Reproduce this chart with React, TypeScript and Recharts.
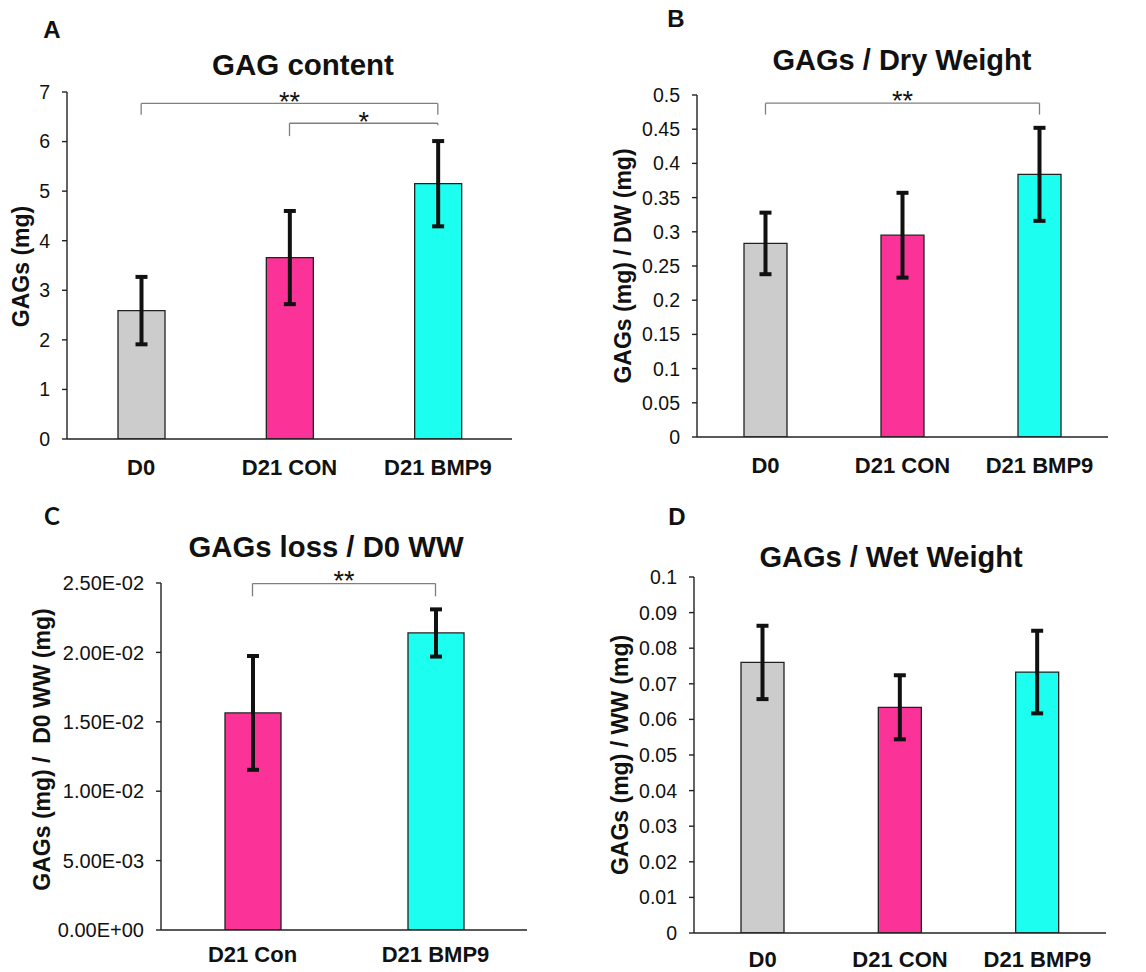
import { BarChart, Bar, XAxis, YAxis, Cell, ErrorBar, ReferenceLine } from 'recharts'

const FONT = '"Liberation Sans", Arial, sans-serif'
const INK = '#111'
const AXIS = '#222'

// categories and colours
const groups = ['D0', 'D21 CON', 'D21 BMP9']
const groupsLoss = ['D21 Con', 'D21 BMP9']
const groupColors = ['#cccccc', '#fb3399', '#1cfff0']
const lossColors = ['#fb3399', '#1cfff0']

// A: GAG content (mg)
const contentMean = [2.59, 3.66, 5.15]
const contentSd = [0.68, 0.94, 0.86]
const contentTicks = [0, 1, 2, 3, 4, 5, 6, 7]

// B: GAGs / dry weight
const dryMean = [0.283, 0.295, 0.384]
const drySd = [0.045, 0.062, 0.068]
const dryTicks = [0, 0.05, 0.1, 0.15, 0.2, 0.25, 0.3, 0.35, 0.4, 0.45, 0.5]

// C: GAGs loss / D0 wet weight
const lossMean = [0.01564, 0.0214]
const lossSd = [0.0041, 0.0017]
const lossTicks = [0, 0.005, 0.01, 0.015, 0.02, 0.025]

// D: GAGs / wet weight
const wetMean = [0.076, 0.0634, 0.0733]
const wetSd = [0.0103, 0.009, 0.0116]
const wetTicks = [0, 0.01, 0.02, 0.03, 0.04, 0.05, 0.06, 0.07, 0.08, 0.09, 0.1]

const plainFmt = (v: number) => `${+v.toFixed(3)}`
const sciFmt = (v: number) =>
  v.toExponential(2).replace(/e([+-])(\d+)/, (_m, s, d) => `E${s}${d.padStart(2, '0')}`)

type Bracket = {
  from: string
  to: string
  y: number
  leftEnd: number
  rightEnd: number
  stars: string
  offset: number
}

type PanelProps = {
  left: number
  top: number
  width: number
  height: number
  margin: { top: number; right: number; bottom: number; left: number }
  yWidth: number
  xHeight: number
  xTickMargin: number
  categories: string[]
  means: number[]
  sds: number[]
  colors: string[]
  ticks: number[]
  fmt: (v: number) => string
  tickFont: number
  barSize: number
  yLabel: string
  yLabelX: number
  yLabelDy: number
  brackets: Bracket[]
}

function Panel(p: PanelProps) {
  const data = p.categories.map((name, i) => ({ name, value: p.means[i], sd: p.sds[i] }))
  const bracketLines = p.brackets.flatMap((b, i) => [
    <ReferenceLine
      key={`h${i}`}
      segment={[{ x: b.from, y: b.y }, { x: b.to, y: b.y }]}
      stroke="#7f7f7f"
      strokeWidth={1.3}
      ifOverflow="visible"
      label={{ value: b.stars, position: 'top', offset: b.offset, fontSize: 27, fill: INK, fontFamily: FONT }}
    />,
    <ReferenceLine
      key={`l${i}`}
      segment={[{ x: b.from, y: b.y }, { x: b.from, y: b.leftEnd }]}
      stroke="#7f7f7f"
      strokeWidth={1.3}
      ifOverflow="visible"
    />,
    <ReferenceLine
      key={`r${i}`}
      segment={[{ x: b.to, y: b.y }, { x: b.to, y: b.rightEnd }]}
      stroke="#7f7f7f"
      strokeWidth={1.3}
      ifOverflow="visible"
    />,
  ])

  const plotH = p.height - p.margin.top - p.margin.bottom - p.xHeight
  const yLabelContent = () => {
    const cy = p.margin.top + plotH / 2 + p.yLabelDy
    return (
      <text
        x={p.yLabelX}
        y={cy}
        transform={`rotate(-90 ${p.yLabelX} ${cy})`}
        textAnchor="middle"
        fontFamily={FONT}
        fontWeight={700}
        fontSize={23}
        fill={INK}
        style={{ whiteSpace: 'pre' }}
      >
        {p.yLabel}
      </text>
    )
  }

  return (
    <div style={{ position: 'absolute', left: p.left, top: p.top }}>
      <BarChart width={p.width} height={p.height} data={data} margin={p.margin}>
        <XAxis
          dataKey="name"
          height={p.xHeight}
          interval={0}
          tickLine={false}
          tickMargin={p.xTickMargin}
          axisLine={{ stroke: AXIS, strokeWidth: 1.4 }}
          tick={{ fill: INK, fontSize: 22, fontWeight: 700, fontFamily: FONT }}
        />
        <YAxis
          width={p.yWidth}
          domain={[p.ticks[0], p.ticks[p.ticks.length - 1]]}
          ticks={p.ticks}
          interval={0}
          allowDataOverflow
          tickFormatter={p.fmt}
          tickSize={5}
          tickMargin={12}
          axisLine={{ stroke: AXIS, strokeWidth: 1.4 }}
          tickLine={{ stroke: AXIS, strokeWidth: 1.4 }}
          tick={{ fill: INK, fontSize: p.tickFont, fontFamily: FONT }}
          label={{ content: yLabelContent }}
        />
        <Bar dataKey="value" barSize={p.barSize} stroke={AXIS} strokeWidth={1.3} isAnimationActive={false}>
          {data.map((d, i) => (
            <Cell key={d.name} fill={p.colors[i]} />
          ))}
          <ErrorBar dataKey="sd" direction="y" width={6} strokeWidth={4} stroke={INK} isAnimationActive={false} />
        </Bar>
        {bracketLines}
      </BarChart>
    </div>
  )
}

const titles = [
  { text: 'GAG content', x: 303, y: 75, size: 29.5 },
  { text: 'GAGs / Dry Weight', x: 902, y: 70, size: 29 },
  { text: 'GAGs loss / D0 WW', x: 326, y: 557, size: 29.3 },
  { text: 'GAGs / Wet Weight', x: 891, y: 567, size: 29 },
]

const letters = [
  { text: 'A', x: 52, y: 38, font: FONT },
  { text: 'B', x: 676, y: 27, font: FONT },
  { text: 'C', x: 52, y: 525, font: 'Lato, "Open Sans", sans-serif' },
  { text: 'D', x: 677, y: 525, font: FONT },
]

export default function App() {
  return (
    <div style={{ position: 'absolute', left: 0, top: 0, width: 1146, height: 972, background: '#fff' }}>
      <Panel
        left={0}
        top={0}
        width={560}
        height={480}
        margin={{ top: 92, right: 48, bottom: 0, left: 0 }}
        yWidth={67}
        xHeight={41}
        xTickMargin={14.5}
        categories={groups}
        means={contentMean}
        sds={contentSd}
        colors={groupColors}
        ticks={contentTicks}
        fmt={plainFmt}
        tickFont={19.5}
        barSize={47}
        yLabel="GAGs (mg)"
        yLabelX={29}
        yLabelDy={1}
        brackets={[
          { from: 'D0', to: 'D21 BMP9', y: 6.77, leftEnd: 6.54, rightEnd: 6.54, stars: '**', offset: -8 },
          { from: 'D21 CON', to: 'D21 BMP9', y: 6.37, leftEnd: 6.11, rightEnd: 6.33, stars: '*', offset: -7.5 },
        ]}
      />
      <Panel
        left={580}
        top={0}
        width={566}
        height={480}
        margin={{ top: 95, right: 38, bottom: 0, left: 0 }}
        yWidth={117}
        xHeight={43}
        xTickMargin={14.5}
        categories={groups}
        means={dryMean}
        sds={drySd}
        colors={groupColors}
        ticks={dryTicks}
        fmt={plainFmt}
        tickFont={19.5}
        barSize={43}
        yLabel="GAGs (mg) / DW (mg)"
        yLabelX={51}
        yLabelDy={0}
        brackets={[
          { from: 'D0', to: 'D21 BMP9', y: 0.488, leftEnd: 0.4714, rightEnd: 0.4714, stars: '**', offset: -6.7 },
        ]}
      />
      <Panel
        left={0}
        top={490}
        width={560}
        height={482}
        margin={{ top: 93, right: 33, bottom: 0, left: 0 }}
        yWidth={161}
        xHeight={42}
        xTickMargin={10.5}
        categories={groupsLoss}
        means={lossMean}
        sds={lossSd}
        colors={lossColors}
        ticks={lossTicks}
        fmt={sciFmt}
        tickFont={20}
        barSize={56}
        yLabel="GAGs (mg) /  D0 WW (mg)"
        yLabelX={50}
        yLabelDy={-7}
        brackets={[
          { from: 'D21 Con', to: 'D21 BMP9', y: 0.02496, leftEnd: 0.02404, rightEnd: 0.02404, stars: '**', offset: -6.3 },
        ]}
      />
      <Panel
        left={580}
        top={490}
        width={566}
        height={482}
        margin={{ top: 87, right: 40, bottom: 0, left: 0 }}
        yWidth={114}
        xHeight={39}
        xTickMargin={12.5}
        categories={groups}
        means={wetMean}
        sds={wetSd}
        colors={groupColors}
        ticks={wetTicks}
        fmt={plainFmt}
        tickFont={19.5}
        barSize={43}
        yLabel="GAGs (mg) / WW (mg)"
        yLabelX={48}
        yLabelDy={0}
        brackets={[]}
      />
      <svg
        width={1146}
        height={972}
        style={{ position: 'absolute', left: 0, top: 0, pointerEvents: 'none' }}
      >
        {titles.map((t) => (
          <text
            key={t.text}
            x={t.x}
            y={t.y}
            textAnchor="middle"
            fontFamily={FONT}
            fontWeight={700}
            fontSize={t.size}
            fill={INK}
          >
            {t.text}
          </text>
        ))}
        {letters.map((l) => (
          <text key={l.text} x={l.x} y={l.y} textAnchor="middle" fontFamily={l.font} fontWeight={700} fontSize={24} fill={INK}>
            {l.text}
          </text>
        ))}
      </svg>
    </div>
  )
}
